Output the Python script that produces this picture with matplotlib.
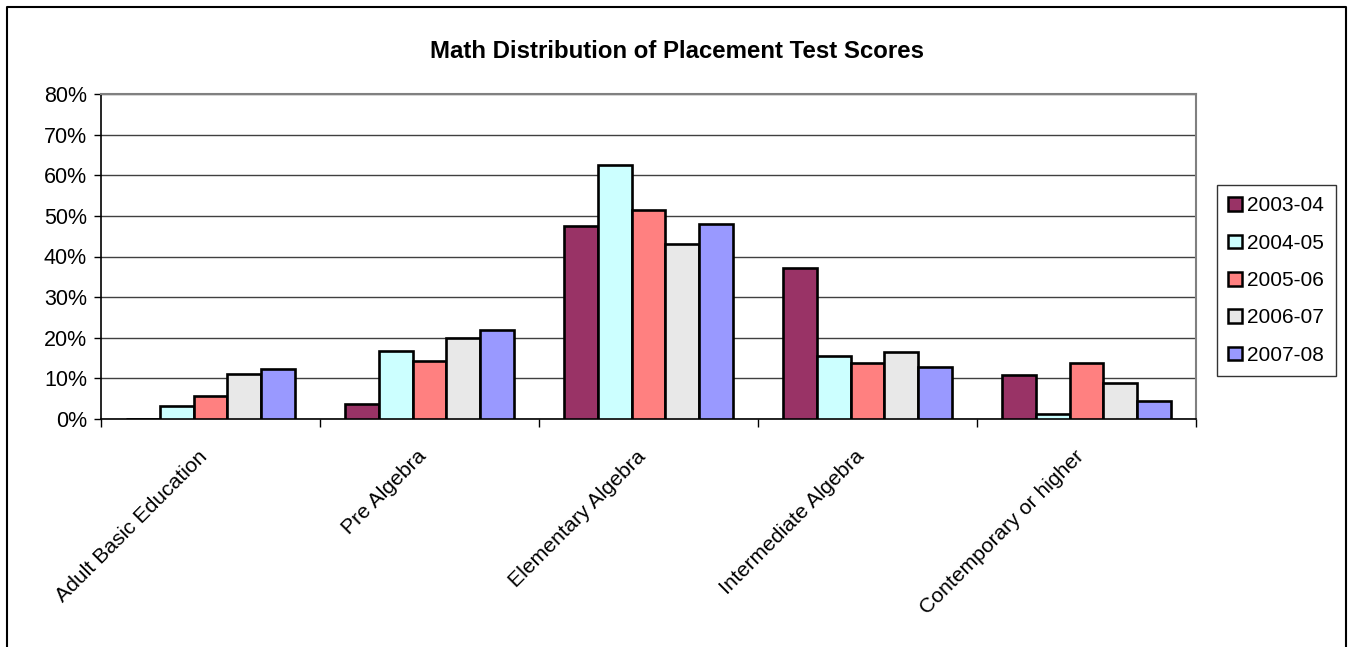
import numpy as np
import matplotlib.pyplot as plt
from matplotlib.lines import Line2D
from matplotlib.patches import Patch

plt.rcParams['font.family'] = ['Liberation Sans', 'DejaVu Sans']

categories = ['Adult Basic Education', 'Pre Algebra', 'Elementary Algebra',
              'Intermediate Algebra', 'Contemporary or higher']
years = ['2003-04', '2004-05', '2005-06', '2006-07', '2007-08']

# percent values per year, one per category
v_2003 = [0.0, 3.8, 47.5, 37.1, 10.9]
v_2004 = [3.3, 16.7, 62.6, 15.5, 1.3]
v_2005 = [5.7, 14.2, 51.4, 13.9, 13.9]
v_2006 = [11.0, 20.0, 43.0, 16.5, 8.8]
v_2007 = [12.2, 22.0, 47.9, 12.8, 4.5]
series = [v_2003, v_2004, v_2005, v_2006, v_2007]

colors = ['#993366', '#CCFFFF', '#FF8080', '#E8E8E8', '#9999FF']

W, H = 1351, 647
fig = plt.figure(figsize=(W / 100, H / 100), dpi=100)
ax = fig.add_axes([101 / W, 1 - 419 / H, (1196 - 101) / W, (419 - 94) / H])

x = np.arange(len(categories))
bw = 1 / 6.5
for i, (vals, c) in enumerate(zip(series, colors)):
    offs = (i - 2) * bw
    ax.bar(x + offs, vals, width=bw, color=c, edgecolor='black', linewidth=1.9,
           label=years[i], zorder=3)

ax.set_xlim(-0.5, len(categories) - 0.5)
ax.set_ylim(0, 80)
ax.set_yticks(np.arange(0, 81, 10))
ax.set_yticklabels([f'{t}%' for t in range(0, 81, 10)], fontsize=15.5)
ax.yaxis.grid(True, color='#404040', linewidth=1, zorder=0)
ax.set_axisbelow(True)
ax.tick_params(axis='y', length=5, width=1, direction='out', pad=5)

ax.set_xticks(x)
ax.set_xticklabels([])
ax.set_xticks(np.arange(-0.5, len(categories), 1), minor=True)
ax.tick_params(axis='x', which='major', length=0)
ax.tick_params(axis='x', which='minor', length=6, width=1, direction='out')
for xi, lab in zip(x, categories):
    ax.annotate(lab, xy=(xi, 0), xycoords=('data', 'axes fraction'),
                xytext=(-9, -20), textcoords='offset points',
                rotation=45, ha='right', va='top', rotation_mode='anchor',
                fontsize=15.2)

for s in ['left', 'bottom']:
    ax.spines[s].set_color('black')
    ax.spines[s].set_linewidth(1.2)
for s in ['top', 'right']:
    ax.spines[s].set_color('#808080')
    ax.spines[s].set_linewidth(1.5)

fig.text(677 / W, 1 - 52 / H, 'Math Distribution of Placement Test Scores',
         ha='center', va='center', fontsize=17.3, fontweight='bold')

handles = [Patch(facecolor=c, edgecolor='black', linewidth=1.8) for c in colors]
leg = fig.legend(handles, years, loc='upper left',
                 bbox_to_anchor=(1217 / W, 1 - 185 / H),
                 fontsize=15, frameon=True, fancybox=False,
                 handlelength=0.65, handleheight=0.65, handletextpad=0.25,
                 labelspacing=0.88, borderpad=0.55, borderaxespad=0)
leg.get_frame().set_edgecolor('black')
leg.get_frame().set_linewidth(1)

# chart outer border (left, top, right)
bx0, bx1, by0 = 7 / W, 1346 / W, 1 - 7 / H
fig.add_artist(Line2D([bx0, bx0, bx1, bx1], [0, by0, by0, 0],
                      transform=fig.transFigure, color='black', linewidth=1.5))

fig.savefig('out.png', dpi=100)
